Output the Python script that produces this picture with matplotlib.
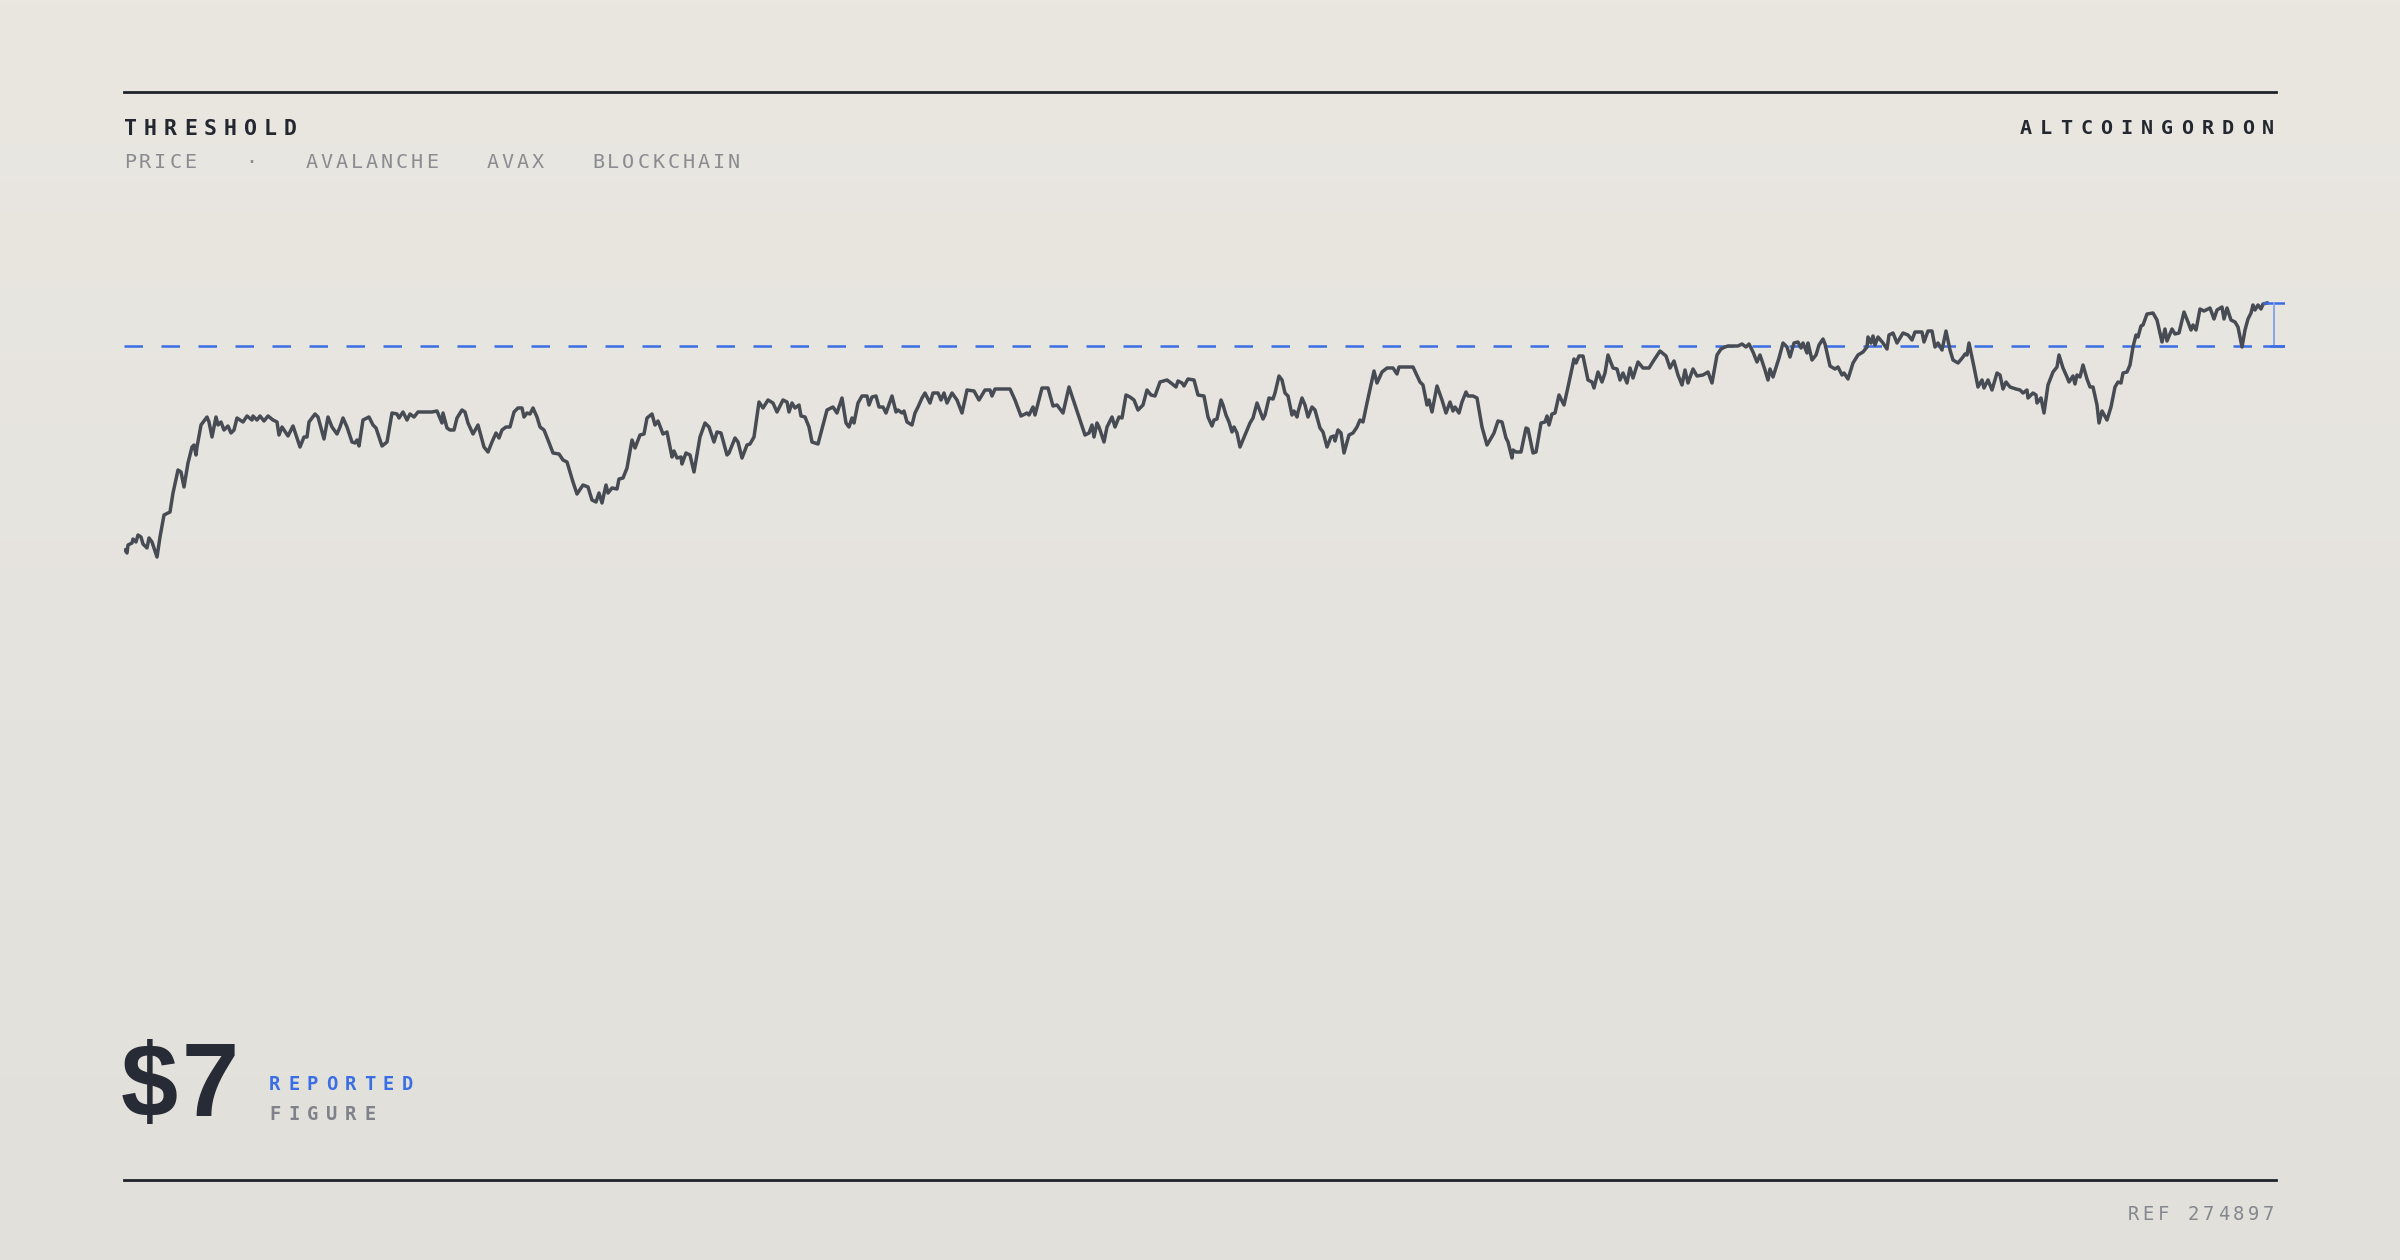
import numpy as np
import matplotlib
matplotlib.use('Agg')
import matplotlib.pyplot as plt
import matplotlib.transforms as mtransforms
from matplotlib.colors import LinearSegmentedColormap

# hourly price readings (hours since start, USD)
hours = [
    0, 2, 3, 7, 8, 11, 13, 16, 18, 22,
    24, 27, 32, 35, 39, 45, 48, 53, 56, 59,
    63, 67, 69, 71, 72, 76, 82, 84, 87, 91,
    93, 96, 99, 103, 106, 109, 112, 118, 122, 127,
    128, 132, 135, 139, 143, 148, 152, 154, 157, 163,
    168, 175, 179, 182, 184, 190, 193, 199, 203, 207,
    212, 215, 218, 222, 227, 230, 232, 234, 238, 244,
    248, 251, 257, 262, 267, 272, 274, 278, 282, 285,
    289, 293, 307, 312, 317, 318, 322, 325, 329, 332,
    337, 340, 343, 348, 353, 359, 363, 367, 371, 374,
    377, 381, 385, 389, 393, 397, 399, 402, 405, 408,
    412, 415, 419, 423, 428, 434, 438, 442, 445, 448,
    452, 458, 463, 467, 471, 474, 477, 481, 483, 487,
    492, 494, 498, 502, 507, 510, 515, 519, 522, 527,
    530, 533, 538, 542, 547, 549, 552, 556, 557, 561,
    565, 569, 575, 580, 584, 589, 592, 596, 602, 604,
    610, 613, 617, 622, 625, 629, 634, 638, 643, 648,
    652, 658, 662, 664, 667, 670, 674, 676, 680, 684,
    687, 693, 698, 702, 708, 712, 717, 721, 724, 727,
    729, 733, 737, 742, 744, 747, 751, 754, 758, 761,
    767, 771, 773, 777, 779, 782, 787, 790, 793, 797,
    800, 805, 808, 813, 816, 819, 822, 827, 832, 837,
    842, 849, 854, 860, 865, 867, 870, 885, 890, 896,
    902, 904, 908, 910, 917, 923, 928, 932, 938, 944,
    951, 960, 964, 967, 969, 972, 974, 979, 982, 987,
    990, 994, 997, 1001, 1005, 1009, 1013, 1018, 1022, 1026,
    1030, 1035, 1042, 1046, 1051, 1053, 1057, 1059, 1063, 1069,
    1073, 1079, 1083, 1087, 1089, 1092, 1096, 1098, 1101, 1104,
    1107, 1109, 1112, 1115, 1120, 1125, 1128, 1132, 1138, 1140,
    1144, 1148, 1150, 1154, 1157, 1160, 1163, 1167, 1169, 1172,
    1173, 1177, 1180, 1183, 1187, 1190, 1195, 1198, 1202, 1206,
    1209, 1210, 1213, 1216, 1219, 1224, 1228, 1232, 1235, 1238,
    1242, 1249, 1252, 1257, 1262, 1268, 1272, 1274, 1288, 1295,
    1298, 1302, 1304, 1307, 1312, 1317, 1321, 1325, 1328, 1330,
    1334, 1337, 1341, 1343, 1348, 1352, 1357, 1362, 1365, 1369,
    1373, 1377, 1381, 1383, 1387, 1388, 1391, 1396, 1401, 1403,
    1408, 1411, 1416, 1420, 1422, 1424, 1427, 1430, 1434, 1439,
    1443, 1449, 1451, 1454, 1458, 1463, 1467, 1469, 1473, 1477,
    1480, 1483, 1488, 1492, 1495, 1498, 1502, 1505, 1508, 1513,
    1518, 1524, 1529, 1535, 1541, 1545, 1549, 1553, 1557, 1560,
    1563, 1568, 1572, 1578, 1583, 1587, 1592, 1596, 1600, 1603,
    1613, 1617, 1621, 1624, 1628, 1632, 1635, 1640, 1643, 1645,
    1648, 1654, 1658, 1662, 1665, 1669, 1673, 1676, 1678, 1682,
    1683, 1687, 1691, 1694, 1698, 1700, 1705, 1710, 1713, 1717,
    1719, 1723, 1728, 1733, 1738, 1742, 1743, 1746, 1748, 1750,
    1753, 1758, 1762, 1764, 1768, 1772, 1778, 1783, 1787, 1790,
    1797, 1799, 1803, 1807, 1810, 1813, 1817, 1821, 1825, 1828,
    1833, 1838, 1840, 1842, 1844, 1849, 1853, 1857, 1859, 1863,
    1867, 1872, 1875, 1878, 1881, 1885, 1891, 1895, 1898, 1902,
    1903, 1908, 1911, 1912, 1916, 1919, 1923, 1928, 1932, 1934,
    1938, 1942, 1944, 1948, 1950, 1952, 1955, 1958, 1962, 1965,
    1968, 1972, 1974, 1977, 1982, 1986, 1990, 1993, 1996, 1998,
    2002, 2005, 2008, 2011, 2013, 2016, 2018, 2022, 2028, 2032,
    2037, 2040, 2042, 2047, 2050, 2054, 2059, 2063, 2066, 2068,
    2071, 2075, 2079, 2085, 2089, 2092, 2097, 2099, 2102, 2106,
    2110, 2113, 2117, 2120, 2123, 2126, 2128, 2130, 2133, 2136,
    2138, 2142,
]
price = [
    4.96, 4.93, 5.01, 5.03, 5.07, 5.04, 5.11, 5.09, 5.02, 4.98,
    5.08, 5.04, 4.89, 5.09, 5.31, 5.34, 5.53, 5.76, 5.74, 5.59,
    5.83, 5.99, 6.01, 5.91, 5.99, 6.21, 6.29, 6.24, 6.09, 6.29,
    6.21, 6.24, 6.16, 6.20, 6.13, 6.16, 6.28, 6.24, 6.30, 6.26,
    6.30, 6.26, 6.30, 6.25, 6.30, 6.26, 6.24, 6.11, 6.19, 6.10,
    6.20, 5.99, 6.09, 6.09, 6.24, 6.32, 6.29, 6.07, 6.29, 6.19,
    6.12, 6.19, 6.28, 6.19, 6.04, 6.03, 6.06, 6.00, 6.26, 6.29,
    6.21, 6.18, 6.00, 6.04, 6.33, 6.32, 6.28, 6.34, 6.26, 6.32,
    6.29, 6.34, 6.34, 6.35, 6.23, 6.33, 6.18, 6.16, 6.16, 6.28,
    6.36, 6.34, 6.23, 6.12, 6.21, 5.99, 5.94, 6.04, 6.13, 6.08,
    6.16, 6.19, 6.19, 6.34, 6.38, 6.38, 6.29, 6.33, 6.32, 6.38,
    6.29, 6.19, 6.16, 6.06, 5.93, 5.92, 5.86, 5.84, 5.74, 5.64,
    5.52, 5.61, 5.59, 5.46, 5.44, 5.53, 5.43, 5.61, 5.53, 5.58,
    5.57, 5.67, 5.68, 5.78, 6.06, 5.98, 6.11, 6.12, 6.28, 6.32,
    6.21, 6.25, 6.12, 6.14, 5.89, 5.95, 5.88, 5.89, 5.82, 5.93,
    5.91, 5.74, 6.09, 6.23, 6.19, 6.04, 6.14, 6.13, 5.91, 5.93,
    6.08, 6.04, 5.88, 6.01, 6.02, 6.09, 6.44, 6.38, 6.46, 6.43,
    6.34, 6.46, 6.44, 6.34, 6.43, 6.38, 6.41, 6.30, 6.29, 6.19,
    6.04, 6.02, 6.21, 6.36, 6.39, 6.33, 6.48, 6.23, 6.19, 6.28,
    6.23, 6.43, 6.50, 6.50, 6.41, 6.49, 6.50, 6.39, 6.39, 6.33,
    6.50, 6.34, 6.36, 6.33, 6.35, 6.24, 6.21, 6.33, 6.39, 6.48,
    6.53, 6.43, 6.53, 6.53, 6.46, 6.53, 6.43, 6.53, 6.46, 6.33,
    6.56, 6.55, 6.46, 6.56, 6.56, 6.50, 6.57, 6.57, 6.46, 6.30,
    6.33, 6.31, 6.39, 6.31, 6.58, 6.58, 6.40, 6.41, 6.33, 6.59,
    6.38, 6.11, 6.13, 6.21, 6.09, 6.23, 6.19, 6.04, 6.19, 6.29,
    6.19, 6.29, 6.28, 6.51, 6.49, 6.46, 6.36, 6.41, 6.56, 6.51,
    6.50, 6.64, 6.66, 6.63, 6.59, 6.65, 6.63, 6.60, 6.67, 6.66,
    6.51, 6.50, 6.29, 6.20, 6.26, 6.27, 6.46, 6.41, 6.31, 6.24,
    6.14, 6.19, 6.13, 5.99, 6.11, 6.23, 6.28, 6.43, 6.27, 6.31,
    6.48, 6.47, 6.53, 6.70, 6.66, 6.53, 6.50, 6.31, 6.35, 6.29,
    6.34, 6.48, 6.41, 6.29, 6.39, 6.36, 6.18, 6.14, 5.99, 6.09,
    6.10, 6.05, 6.16, 6.13, 5.93, 6.11, 6.13, 6.19, 6.26, 6.24,
    6.43, 6.75, 6.63, 6.74, 6.78, 6.78, 6.72, 6.79, 6.79, 6.64,
    6.61, 6.41, 6.46, 6.34, 6.60, 6.46, 6.33, 6.44, 6.35, 6.39,
    6.33, 6.44, 6.54, 6.50, 6.50, 6.48, 6.19, 6.01, 6.06, 6.13,
    6.25, 6.24, 6.08, 6.04, 5.88, 5.96, 5.94, 5.94, 6.18, 6.17,
    5.93, 5.94, 6.23, 6.24, 6.30, 6.21, 6.32, 6.33, 6.51, 6.41,
    6.59, 6.87, 6.83, 6.90, 6.90, 6.66, 6.64, 6.58, 6.74, 6.64,
    6.73, 6.91, 6.78, 6.77, 6.66, 6.73, 6.63, 6.78, 6.68, 6.84,
    6.78, 6.78, 6.86, 6.95, 6.90, 6.78, 6.85, 6.71, 6.61, 6.76,
    6.63, 6.77, 6.70, 6.71, 6.74, 6.63, 6.91, 6.97, 6.99, 7.00,
    7.00, 7.02, 6.99, 7.02, 6.94, 6.84, 6.91, 6.76, 6.66, 6.77,
    6.69, 6.88, 7.03, 6.99, 6.89, 7.03, 7.04, 6.98, 7.03, 6.93,
    7.03, 6.86, 6.91, 7.01, 7.07, 7.02, 6.80, 6.77, 6.79, 6.71,
    6.73, 6.67, 6.83, 6.91, 6.94, 6.99, 7.09, 7.03, 7.10, 7.01,
    7.09, 7.03, 6.97, 7.11, 7.13, 7.03, 7.13, 7.11, 7.06, 7.14,
    7.14, 7.04, 7.15, 7.15, 6.99, 7.03, 6.96, 7.15, 6.96, 6.86,
    6.83, 6.89, 6.92, 6.91, 7.03, 6.79, 6.59, 6.66, 6.58, 6.66,
    6.56, 6.73, 6.71, 6.57, 6.64, 6.59, 6.57, 6.56, 6.53, 6.56,
    6.48, 6.53, 6.51, 6.43, 6.48, 6.33, 6.61, 6.74, 6.79, 6.91,
    6.78, 6.69, 6.64, 6.70, 6.62, 6.71, 6.69, 6.81, 6.67, 6.59,
    6.59, 6.41, 6.23, 6.35, 6.26, 6.39, 6.59, 6.64, 6.63, 6.73,
    6.74, 6.81, 6.99, 7.11, 7.09, 7.20, 7.21, 7.32, 7.33, 7.26,
    7.04, 7.17, 7.05, 7.17, 7.12, 7.13, 7.34, 7.24, 7.16, 7.21,
    7.16, 7.37, 7.35, 7.38, 7.27, 7.36, 7.39, 7.27, 7.38, 7.26,
    7.24, 7.19, 6.99, 7.16, 7.27, 7.33, 7.41, 7.36, 7.41, 7.37,
    7.42, 7.43,
]
threshold = 7.0

title = 'THRESHOLD'
subtitle = 'PRICE   \u00b7   AVALANCHE   AVAX   BLOCKCHAIN'
source = 'ALTCOINGORDON'
big_value = '$7'
label_top = 'REPORTED'
label_bottom = 'FIGURE'
ref = 'REF 274897'

INK = '#23272f'
GREY = '#8a8c91'
BLUE = '#3a6ee4'
LINE = '#474b53'

W, H = 2400, 1260
fig = plt.figure(figsize=(W / 100, H / 100), dpi=100)

# background gradient
bg = fig.add_axes([0, 0, 1, 1], zorder=-10)
cmap = LinearSegmentedColormap.from_list('bg', ['#eae7e1', '#e1e0db'])
bg.imshow(np.linspace(0, 1, 256).reshape(-1, 1), aspect='auto', cmap=cmap,
          extent=[0, 1, 0, 1])
bg.axis('off')

# pixel transform (x from left, y from top)
px = mtransforms.Affine2D().scale(1 / W, -1 / H).translate(0, 1) + fig.transFigure

# main plot
ax = fig.add_axes([124 / W, (H - 1000) / H, 2161 / W, 850 / H])
ax.patch.set_alpha(0)
ax.plot(hours, price, color=LINE, lw=2.5, solid_joinstyle='round', zorder=3)
ax.axhline(threshold, color=BLUE, lw=1.8, dashes=(7.4, 7.4), zorder=2)
ax.set_xlim(-1, 2160)
ax.set_ylim(0.46, 8.96)
ax.axis('off')

# end marker: gap between last price and threshold
t_mark = hours[-1] + 7
ax.plot([hours[-1] - 3, hours[-1] + 17], [price[-1]] * 2, color=BLUE, lw=1.8, zorder=4)
ax.plot([t_mark, t_mark], [threshold, price[-1]], color='#7fa0ec', lw=1.3, zorder=4)
ax.plot([hours[-1] - 3, hours[-1] + 17], [threshold] * 2, color=BLUE, lw=1.8, zorder=4)

# rules
fig.add_artist(plt.Line2D([124, 2276], [92, 92], color='#1f232b', lw=2.0, transform=px))
fig.add_artist(plt.Line2D([124, 2276], [1180, 1180], color='#1f232b', lw=2.0, transform=px))


def tracked(x, y, text, pitch, align='left', **kw):
    n = len(text)
    for i, ch in enumerate(text):
        if ch == ' ':
            continue
        if align == 'left':
            fig.text(x + i * pitch, y, ch, ha='left', va='baseline', transform=px, **kw)
        else:
            fig.text(x - (n - 1 - i) * pitch, y, ch, ha='right', va='baseline',
                     transform=px, **kw)


mono = 'DejaVu Sans Mono'
tracked(124, 135, title, 20.0, family=mono, weight='bold', size=15.5, color=INK)
tracked(124, 168, subtitle, 15.1, family=mono, size=14.5, color=GREY)
tracked(2274, 134, source, 20.2, align='right', family=mono, weight='bold',
        size=14.5, color=INK)
tracked(2274, 1220, ref, 15.0, align='right', family=mono, size=13.5, color='#84878d')
tracked(269, 1090, label_top, 19.0, family=mono, weight='bold', size=13.5, color=BLUE)
tracked(269, 1120, label_bottom, 19.0, family=mono, weight='bold', size=13.5,
        color='#7f828a')

# big figure, "$" and "7" placed separately for a wider set
fig.text(121, 1116, big_value[0], ha='left', va='baseline', transform=px,
         family='Liberation Sans', weight='bold', size=74, color='#272b35')
fig.text(182, 1116, big_value[1], ha='left', va='baseline', transform=px,
         family='Liberation Sans', weight='bold', size=74, color='#272b35')

fig.savefig('out.png', dpi=100)
